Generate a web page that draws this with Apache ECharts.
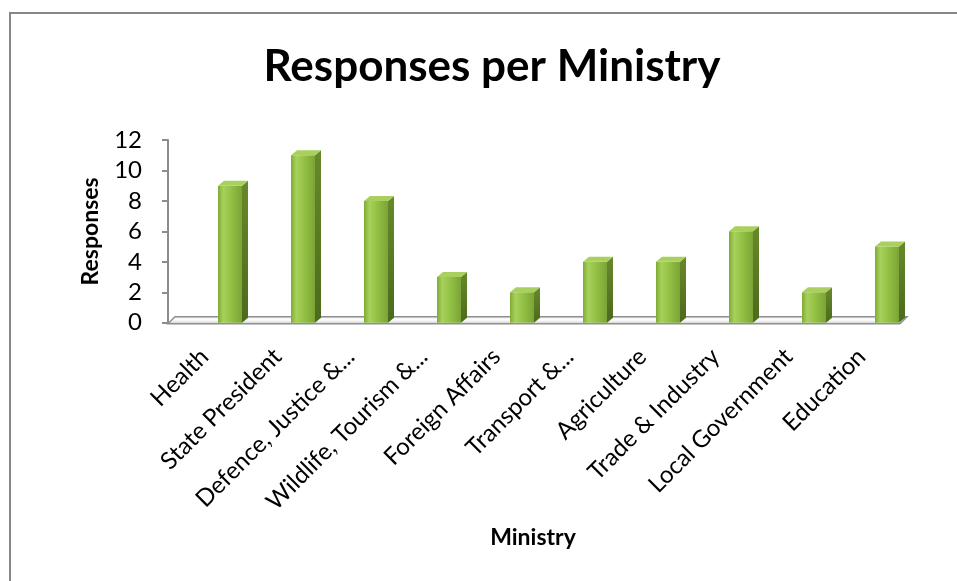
<!DOCTYPE html>
<html>
<head>
<meta charset="utf-8">
<script src="https://cdn.jsdelivr.net/npm/echarts@6/dist/echarts.min.js"></script>
<style>
html,body{margin:0;padding:0;background:#fff;}
#chart{width:957px;height:581px;}
</style>
</head>
<body>
<div id="chart"></div>
<script>
const titleText = 'Responses per Ministry';
const categories = ['Health','State President','Defence, Justice &...','Wildlife, Tourism &...','Foreign Affairs','Transport &...','Agriculture','Trade & Industry','Local Government','Education'];
const responses = [9, 11, 8, 3, 2, 4, 4, 6, 2, 5];
const yTicks = [0, 2, 4, 6, 8, 10, 12];
const xName = 'Ministry';
const yName = 'Responses';

const FONT = 'Lato, "Open Sans", sans-serif';
const chart = echarts.init(document.getElementById('chart'), null, {renderer: 'canvas'});

const gridTop = 140, gridH = 182.7;
const frontGrad = new echarts.graphic.LinearGradient(0, 0, 1, 0, [
  {offset: 0, color: '#7fab35'},
  {offset: 0.22, color: '#a7d15c'},
  {offset: 0.55, color: '#93c144'},
  {offset: 1, color: '#7aa436'}
]);
const DX = 6, DY = -5, BW = 24;

const option = {
  animation: false,
  backgroundColor: '#ffffff',
  title: {
    text: titleText,
    left: 487, top: 40, textAlign: 'center',
    textStyle: {fontFamily: FONT, fontWeight: 'bold', fontSize: 44, color: '#000'}
  },
  graphic: [{
    type: 'rect', silent: true, z: -10,
    shape: {x: 10, y: 13, width: 1000, height: 700},
    style: {fill: 'none', stroke: '#878787', lineWidth: 2}
  }],
  grid: [
    {left: 168, top: gridTop, width: 730, height: gridH},
    {left: 193.5, top: gridTop, width: 730, height: gridH}
  ],
  xAxis: [{
    type: 'category', gridIndex: 0, data: categories,
    axisLine: {show: false}, axisTick: {show: false},
    axisLabel: {rotate: 45, interval: 0, margin: 30, fontFamily: FONT, fontSize: 24, color: '#000'},
    name: xName, nameLocation: 'middle', nameGap: 203,
    nameTextStyle: {fontFamily: FONT, fontWeight: 'bold', fontSize: 23, color: '#000'}
  }, {
    type: 'category', gridIndex: 1, data: categories,
    show: false
  }],
  yAxis: [{
    type: 'value', gridIndex: 0, min: 0, max: 12, interval: 2,
    axisLine: {show: true, lineStyle: {color: '#8c8c8c', width: 2}},
    axisTick: {show: true, length: 6, lineStyle: {color: '#8c8c8c', width: 2}},
    splitLine: {show: false},
    axisLabel: {margin: 26, fontFamily: FONT, fontSize: 24, color: '#000',
      formatter: v => yTicks.indexOf(v) >= 0 ? String(v) : ''},
    name: yName, nameLocation: 'middle', nameGap: 66,
    nameTextStyle: {fontFamily: FONT, fontWeight: 'bold', fontSize: 23, color: '#000'}
  }, {
    type: 'value', gridIndex: 1, min: 0, max: 12, interval: 2, show: false,
    splitLine: {show: false}
  }],
  series: [{
    type: 'custom', name: 'floor', xAxisIndex: 1, yAxisIndex: 1, z: 1, silent: true,
    data: [[0, 0]],
    renderItem: function (params, api) {
      const band = api.size([1, 0])[0];
      const p0 = api.coord([0, 0]);
      const p9 = api.coord([categories.length - 1, 0]);
      const y0 = p0[1];
      const xl = p0[0] - band / 2 - 25.5;
      const xr = p9[0] + band / 2 - 23.5;
      return {
        type: 'polygon',
        shape: {points: [[xl, y0 + 1], [xl + 7, y0 - 6], [xr + 7, y0 - 6], [xr, y0 + 1]]},
        style: {
          fill: new echarts.graphic.LinearGradient(0, 0, 0, 1, [
            {offset: 0, color: '#e6e6e6'}, {offset: 0.45, color: '#ffffff'}, {offset: 1, color: '#c8c8c8'}
          ]),
          stroke: '#8f8f8f', lineWidth: 1.5
        }
      };
    }
  }, {
    type: 'bar', name: 'Responses', xAxisIndex: 1, yAxisIndex: 1, z: 3,
    data: responses, barWidth: BW,
    itemStyle: {color: frontGrad}
  }, {
    type: 'custom', name: 'depth', xAxisIndex: 1, yAxisIndex: 1, z: 4, silent: true,
    data: responses.map((v, i) => [i, v]),
    renderItem: function (params, api) {
      const top = api.coord([api.value(0), api.value(1)]);
      const base = api.coord([api.value(0), 0]);
      const x0 = top[0] - BW / 2, x1 = top[0] + BW / 2;
      return {
        type: 'group',
        children: [{
          type: 'polygon',
          shape: {points: [[x1, top[1]], [x1 + DX, top[1] + DY], [x1 + DX, base[1] + DY], [x1, base[1]]]},
          style: {fill: new echarts.graphic.LinearGradient(0, 0, 0, 1, [
            {offset: 0, color: '#67892a'}, {offset: 1, color: '#4b6a1c'}
          ])}
        }, {
          type: 'polygon',
          shape: {points: [[x0, top[1]], [x0 + DX, top[1] + DY], [x1 + DX, top[1] + DY], [x1, top[1]]]},
          style: {fill: '#a9d05e'}
        }]
      };
    }
  }]
};
chart.setOption(option);
</script>
</body>
</html>
